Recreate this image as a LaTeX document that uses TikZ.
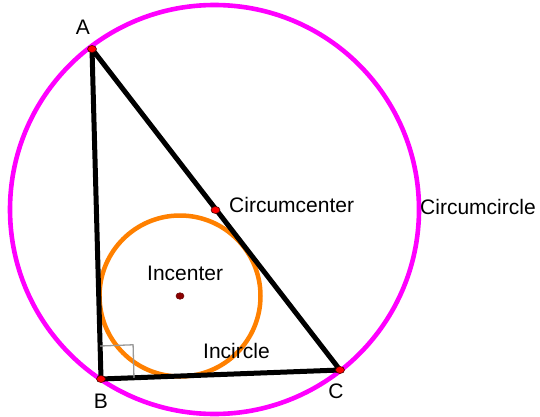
\documentclass[tikz,border=0pt]{standalone}
\usepackage{fontspec}
\setmainfont{Liberation Sans}
\usetikzlibrary{calc,shapes.geometric}
\begin{document}
\begin{tikzpicture}[x=1pt,y=-1pt,
  lbl/.style={font=\fontsize{21}{24}\selectfont, inner sep=0pt},
  reddot/.style={ellipse, draw=black!70!red, line width=0.6pt, fill=red, minimum width=9pt, minimum height=7pt, inner sep=0pt},
  incdot/.style={ellipse, draw=black!60!red, line width=0.6pt, fill=black!45!red, minimum width=8pt, minimum height=6.5pt, inner sep=0pt},
  circum/.style={draw={rgb,255:red,255;green,0;blue,255}, line width=4.6pt},
  incirc/.style={draw={rgb,255:red,255;green,128;blue,0}, line width=4.5pt},
  side/.style={draw=black, line width=5pt, line join=round},
  rightmark/.style={draw=black!40, line width=1.3pt}]
\useasboundingbox (0,0) rectangle (540,417);
\coordinate (A) at (92,49);
\coordinate (B) at (101,379);
\coordinate (C) at (340,370);
\coordinate (O) at (215.5,210);
\coordinate (I) at (180,296);
\draw[circum] (214.5,209.5) circle[radius=204.5];
\draw[incirc] (I) circle[radius=80.5];
\draw[side] (A) -- (B) -- (C) -- cycle;
\coordinate (Sa) at ($(B)!33pt!(A)$);
\coordinate (Sc) at ($(B)!33pt!(C)$);
\coordinate (Sm) at ($(Sa)+(Sc)-(B)$);
\draw[rightmark] (Sa) -- (Sm) -- (Sc);
\node[reddot] (dA) at (A) {};
\node[reddot] (dB) at (B) {};
\node[reddot] (dC) at (C) {};
\node[reddot] (dO) at (O) {};
\node[incdot] (dI) at (I) {};
\node[lbl] (lA) at (83,27) {A};
\node[lbl] (lB) at (101,401) {B};
\node[lbl] (lC) at (336,391) {C};
\node[lbl, anchor=west] (lO) at (229,205) {Circumcenter};
\node[lbl, anchor=west] (lCC) at (420,207) {Circumcircle};
\node[lbl, anchor=west] (lI) at (147,273) {Incenter};
\node[lbl, anchor=west] (lIC) at (203,351) {Incircle};
\end{tikzpicture}
\end{document}
